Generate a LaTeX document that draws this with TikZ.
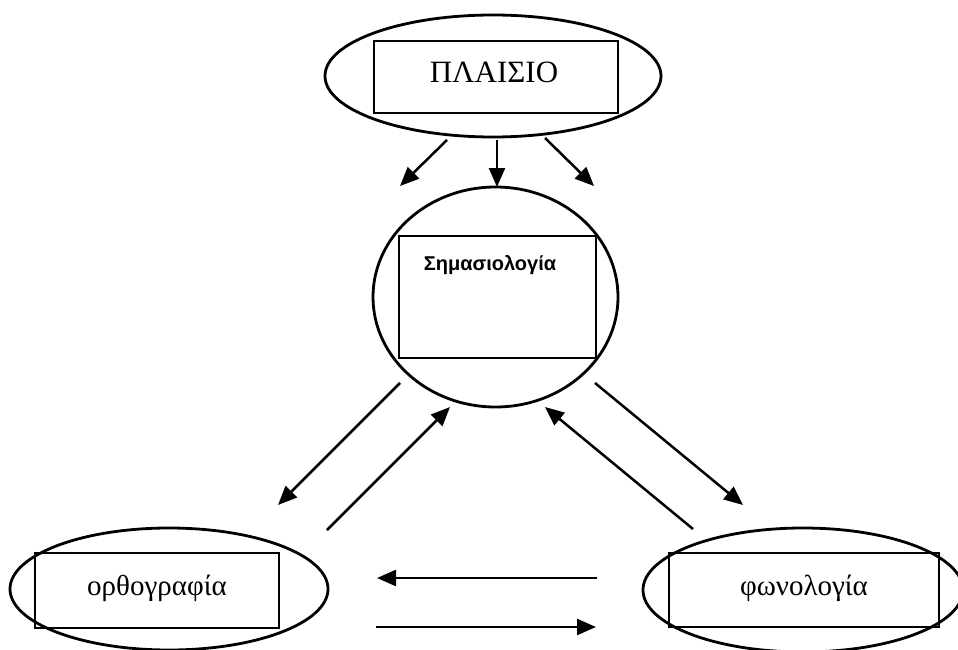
\documentclass[tikz,border=0pt]{standalone}
\usepackage{fontspec}
\setmainfont{Liberation Serif}
\newfontfamily\semfont{Liberation Sans}
\usetikzlibrary{shapes.geometric,arrows.meta}
\begin{document}
\begin{tikzpicture}[x=1pt,y=-1pt,
  oval/.style={draw,ellipse,line width=2.8pt,inner sep=0pt},
  box/.style={draw,rectangle,line width=2.8pt,inner sep=0pt},
  lbl/.style={inner sep=0pt,anchor=base},
  arr/.style={line width=2.5pt,-{Triangle[length=19pt,width=16pt]}}]
\useasboundingbox (0,0) rectangle (958,650);
% context
\node[oval,minimum width=336pt,minimum height=122pt] (ctxE) at (493,76) {};
\node[box,minimum width=244pt,minimum height=72pt] (ctxB) at (496,77) {};
\node[lbl,font=\fontsize{31}{36}\selectfont] (ctxT) at (494,83) {ΠΛΑΙΣΙΟ};
% semantics
\node[oval,minimum width=245pt,minimum height=220pt] (semE) at (495.5,297) {};
\node[box,minimum width=197pt,minimum height=122pt] (semB) at (497.5,297) {};
\node[lbl,font=\semfont\bfseries\fontsize{20}{24}\selectfont] (semT) at (490,270) {Σημασιολογία};
% orthography
\node[oval,minimum width=318pt,minimum height=122pt] (orthE) at (169,589) {};
\node[box,minimum width=244pt,minimum height=75pt] (orthB) at (157,590.5) {};
\node[lbl,font=\fontsize{29}{34}\selectfont] (orthT) at (157,595) {ορθογραφία};
% phonology
\node[oval,minimum width=320pt,minimum height=124pt] (phonE) at (803,590) {};
\node[box,minimum width=270pt,minimum height=74pt] (phonB) at (804,590) {};
\node[lbl,font=\fontsize{29}{34}\selectfont] (phonT) at (804,595) {φωνολογία};
% arrow end points
\coordinate (a1s) at (447,140); \coordinate (a1e) at (400,186);
\coordinate (a2s) at (497,140); \coordinate (a2e) at (497,187);
\coordinate (a3s) at (545,138); \coordinate (a3e) at (594,186);
\coordinate (d1s) at (400,383); \coordinate (d1e) at (278,505);
\coordinate (d2s) at (327,530); \coordinate (d2e) at (450,407);
\coordinate (d3s) at (693,529); \coordinate (d3e) at (545,407);
\coordinate (d4s) at (595,383); \coordinate (d4e) at (743,505);
\coordinate (h1s) at (597,578); \coordinate (h1e) at (377,578);
\coordinate (h2s) at (376,627); \coordinate (h2e) at (596,627);
\draw[arr] (a1s) -- (a1e);
\draw[arr] (a2s) -- (a2e);
\draw[arr] (a3s) -- (a3e);
\draw[arr] (d1s) -- (d1e);
\draw[arr] (d2s) -- (d2e);
\draw[arr] (d3s) -- (d3e);
\draw[arr] (d4s) -- (d4e);
\draw[arr] (h1s) -- (h1e);
\draw[arr] (h2s) -- (h2e);
\end{tikzpicture}
\end{document}
